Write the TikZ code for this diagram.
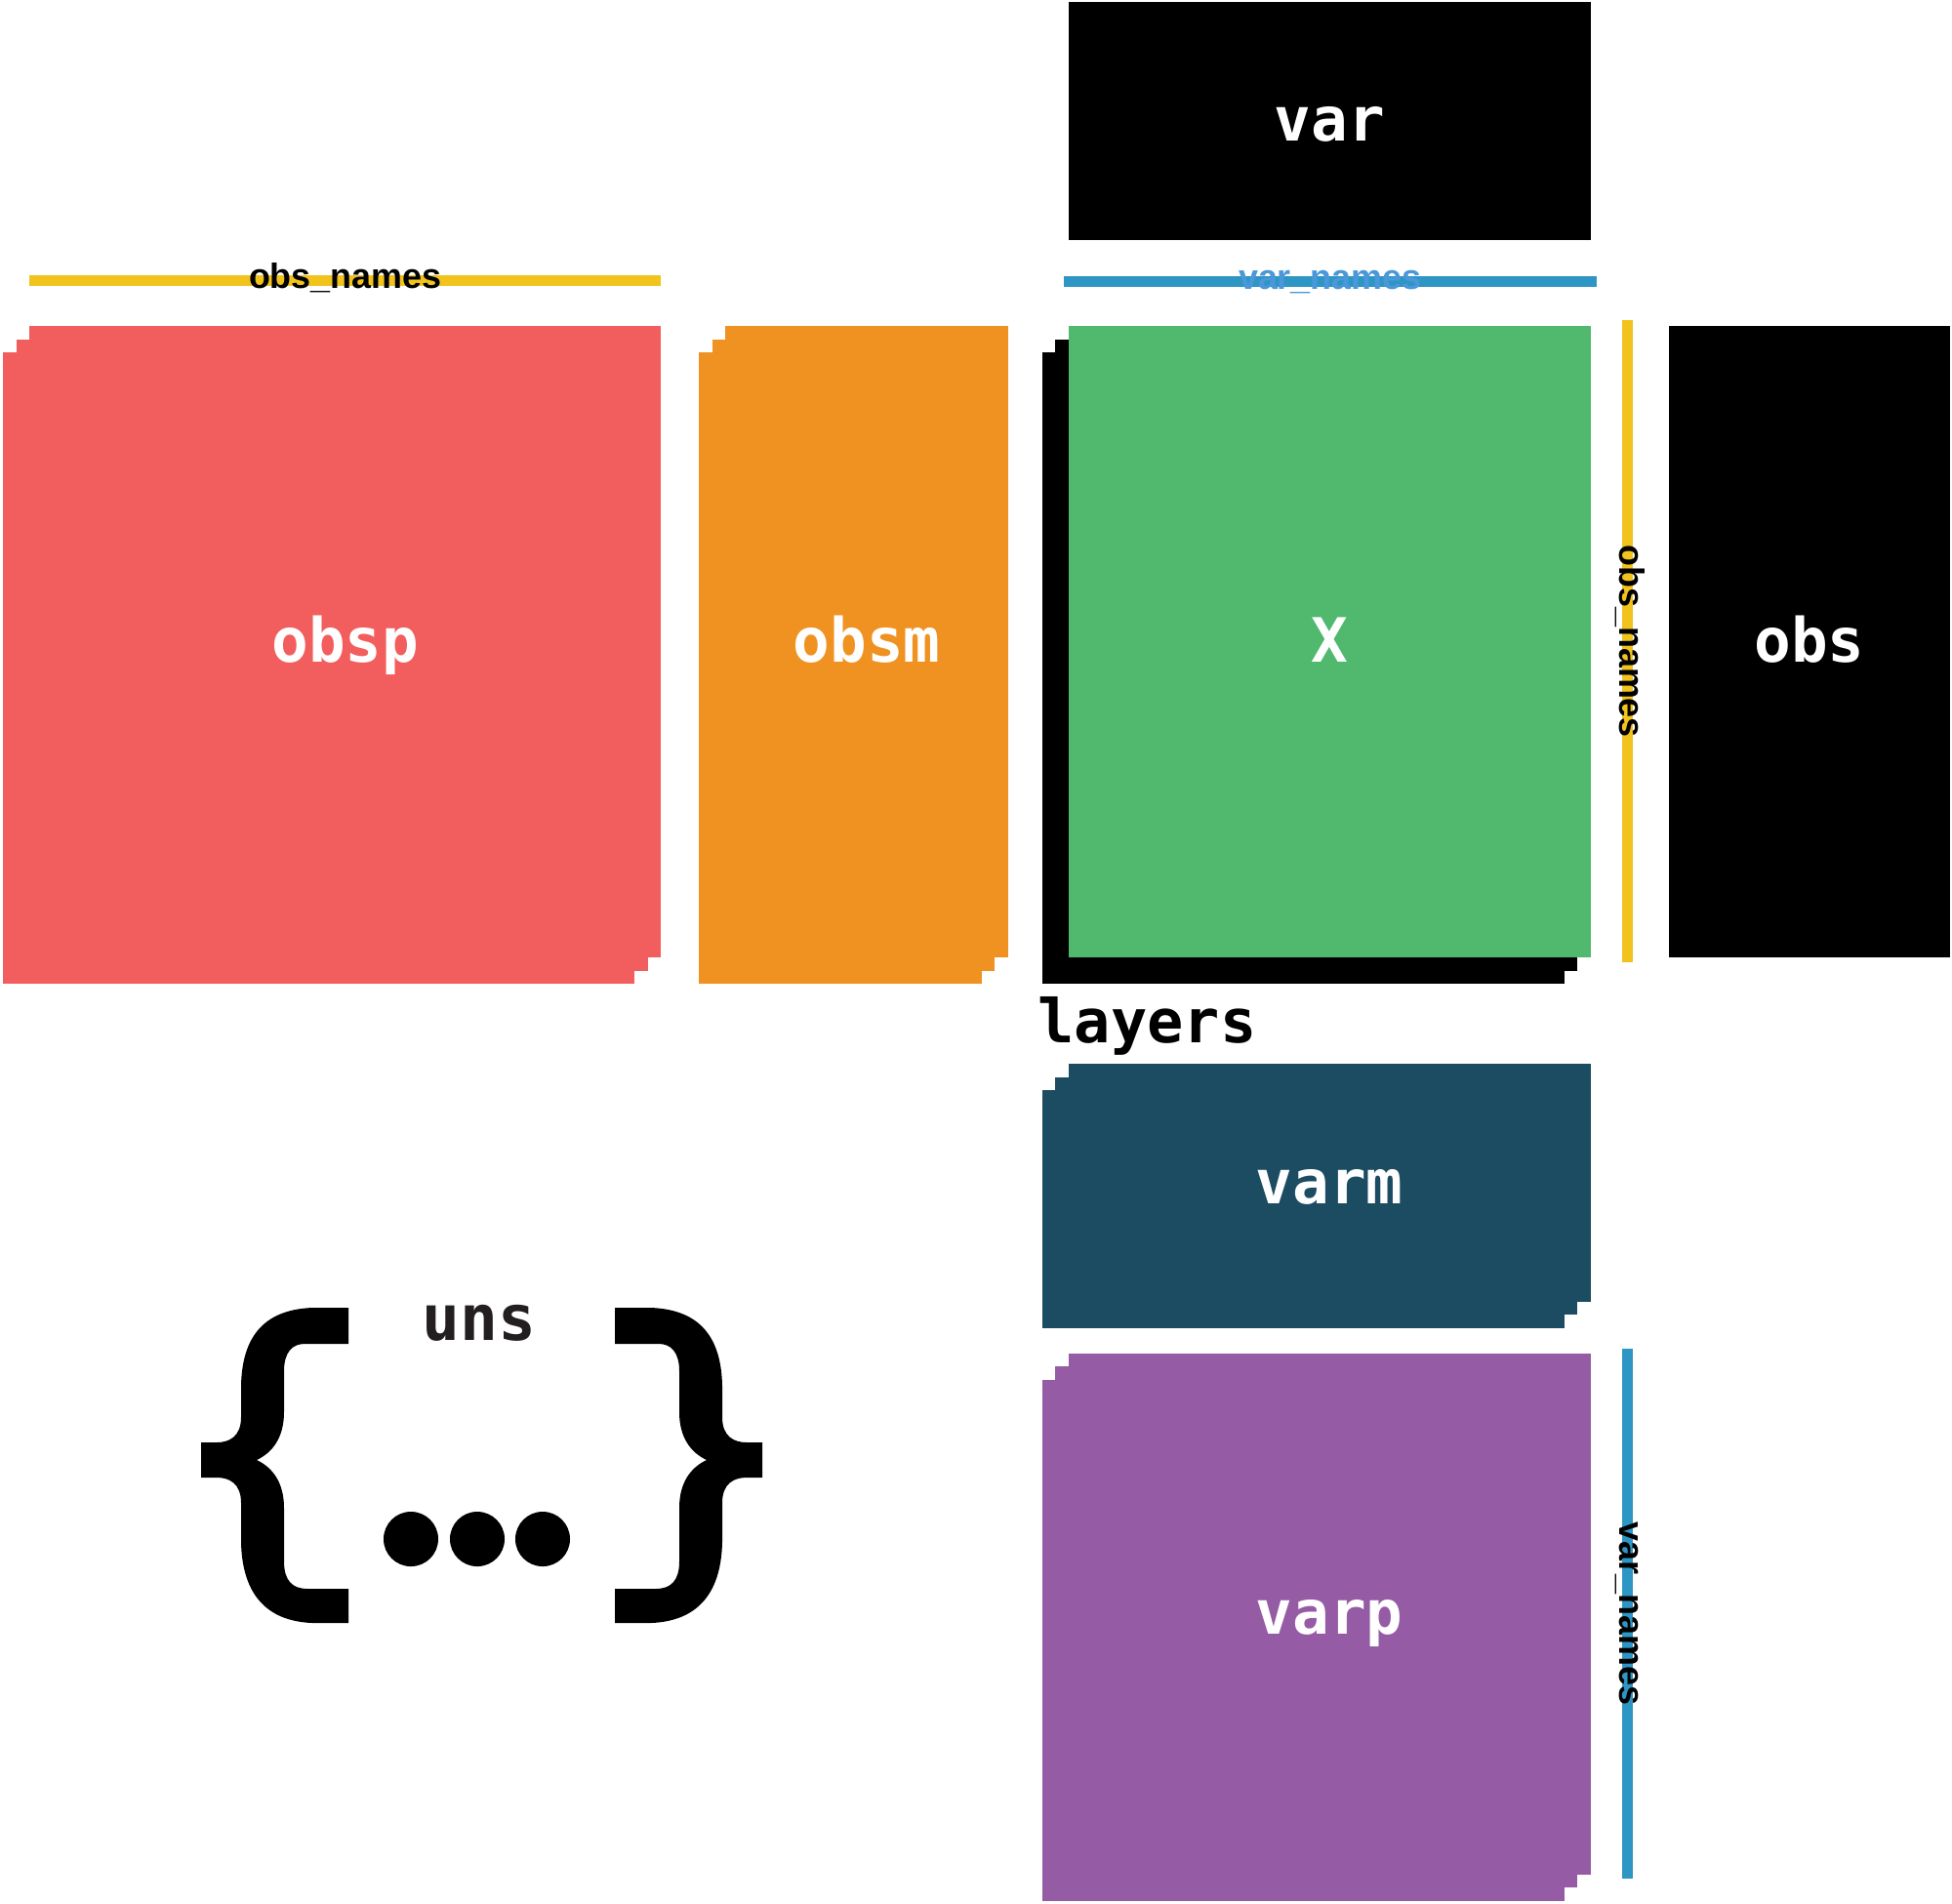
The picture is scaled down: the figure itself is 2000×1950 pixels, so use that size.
\documentclass[tikz,border=0pt]{standalone}
\usepackage{fontspec}
\newfontfamily\boxfont{DejaVu Sans Mono}
\newfontfamily\namefont{Liberation Sans}
\usetikzlibrary{positioning, backgrounds}

\definecolor{obspred}{RGB}{242,94,93}
\definecolor{obsmorange}{RGB}{240,146,34}
\definecolor{xgreen}{RGB}{80,185,110}
\definecolor{varmteal}{RGB}{27,76,97}
\definecolor{varppurple}{RGB}{149,91,165}
\definecolor{obsyellow}{RGB}{241,195,28}
\definecolor{varblue}{RGB}{46,150,196}
\definecolor{varbluetext}{RGB}{74,152,218}
\definecolor{unsgray}{RGB}{35,31,32}

\tikzstyle{block} = [
    rectangle,
    anchor=north west,
    inner sep=0pt,
    outer sep=0pt,
    text=white,
    text height=13.6pt,
    text depth=1.6pt,
    font=\boxfont\bfseries\fontsize{17.8}{20}\selectfont
]
\tikzstyle{namebar} = [line width=0.11cm]
\tikzstyle{namelabel} = [
    inner sep=0pt,
    anchor=mid,
    font=\namefont\bfseries\fontsize{10.2}{12}\selectfont
]
\tikzstyle{keylabel} = [inner sep=0pt, font=\boxfont\bfseries\fontsize{17.6}{20}\selectfont]

\tikzset{
    curlybrace/.pic={
        \fill (151,-156) -- (114,-156)
            .. controls (64,-154) and (42,-126) .. (41,-76)
            -- (41,-44)
            .. controls (41,-24) and (29,-18) .. (16,-18)
            -- (0,-18) -- (0,18) -- (16,18)
            .. controls (29,18) and (41,24) .. (41,44)
            -- (41,84)
            .. controls (42,134) and (64,165) .. (114,167)
            -- (151,167) -- (151,132) -- (109,132)
            .. controls (94,132) and (85,124) .. (85,104)
            -- (85,49)
            .. controls (85,24) and (74,8) .. (57,0)
            .. controls (74,-8) and (85,-24) .. (85,-49)
            -- (85,-91)
            .. controls (85,-111) and (94,-119) .. (106,-119)
            -- (151,-119) -- cycle;
    }
}

\begin{document}
\begin{tikzpicture}[x=0.01cm, y=-0.01cm]
\useasboundingbox (0,0) rectangle (2000,1950);

% Nodes
\node (obsp) [block, fill=obspred, minimum width=6.47cm, minimum height=6.47cm] at (30,334) {obsp};
\node (obsm) [block, fill=obsmorange, minimum width=2.89cm, minimum height=6.47cm, right=0.66cm of obsp] {obsm};
\node (X) [block, fill=xgreen, minimum width=5.35cm, minimum height=6.47cm, right=0.62cm of obsm] {X};
\node (obs) [block, fill=black, minimum width=2.88cm, minimum height=6.47cm, right=0.80cm of X] {obs};
\node (var) [block, fill=black, minimum width=5.35cm, minimum height=2.44cm, above=0.88cm of X] {var};
\node (varm) [block, fill=varmteal, minimum width=5.35cm, minimum height=2.43cm, below=1.09cm of X] {varm};
\node (varp) [block, fill=varppurple, minimum width=5.35cm, minimum height=5.34cm, below=0.53cm of varm] {varp};
\node (layers) [keylabel, anchor=base west] at (1063,1068) {layers};
\node (uns) [keylabel, text=unsgray, anchor=base, font=\boxfont\bfseries\fontsize{18.4}{21}\selectfont] at (491,1373) {uns};

% Stacked layers
\begin{scope}[on background layer]
\foreach \n/\c in {obsp/obspred, obsm/obsmorange, X/black, varm/varmteal, varp/varppurple}
    \foreach \d in {1,2}
        \fill[\c] ([shift={(-13.5*\d,13.5*\d)}]\n.north west) rectangle ([shift={(-13.5*\d,13.5*\d)}]\n.south east);
\end{scope}

% Name bars
\draw [namebar, obsyellow] ([yshift=0.465cm]obsp.north west) -- ([yshift=0.465cm]obsp.north east)
    node[midway, namelabel, text=black] {obs\_names};
\draw [namebar, varblue] ([xshift=-0.05cm, yshift=0.455cm]X.north west) -- ([xshift=0.06cm, yshift=0.455cm]X.north east)
    node[midway, namelabel, text=varbluetext] {var\_names};
\draw [namebar, obsyellow] ([xshift=0.375cm, yshift=0.06cm]X.north east) -- ([xshift=0.375cm, yshift=-0.05cm]X.south east)
    node[midway, namelabel, text=black, rotate=-90] {obs\_names};
\draw [namebar, varblue] ([xshift=0.375cm, yshift=0.05cm]varp.north east) -- ([xshift=0.375cm, yshift=-0.04cm]varp.south east)
    node[midway, namelabel, text=black, rotate=-90] {var\_names};

% uns braces
\pic at (206,1496) {curlybrace};
\pic[xscale=-1] at (781,1496) {curlybrace};
\foreach \x in {421,489,556}
    \fill (\x,1577) circle (0.28cm);

\end{tikzpicture}
\end{document}
